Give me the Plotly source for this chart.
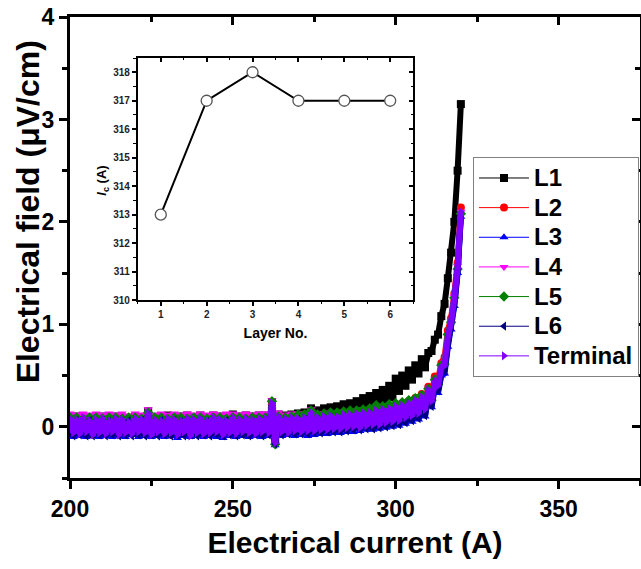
import plotly.graph_objects as go

# ---- V-I measurement: electrical field vs. transport current, per layer ----
current_a = list(range(200, 321))  # 1 A steps, 200 A ... 320 A

field_l1 = (
    [0.09, -0.05, 0.10, -0.06, 0.10, -0.04, 0.09, -0.07, 0.10, -0.05]
    + [0.10, -0.06, 0.09, -0.04, 0.10, -0.07, 0.09, -0.05, 0.08, -0.06]
    + [0.10, -0.04, 0.09, -0.05, 0.15, -0.07, 0.09, -0.04, 0.10, -0.06]
    + [0.11, -0.05, 0.09, -0.07, 0.10, -0.04, 0.11, -0.08, 0.09, -0.05]
    + [0.11, -0.06, 0.09, -0.05, 0.11, -0.04, 0.10, -0.07, 0.09, -0.05]
    + [0.12, -0.06, 0.10, -0.04, 0.11, -0.05, 0.10, -0.06, 0.11, -0.04]
    + [0.11, -0.05, 0.24, -0.14, 0.12, -0.03, 0.11, -0.04, 0.12, -0.02]
    + [0.13, -0.02, 0.14, 0.00, 0.18, 0.02, 0.16, 0.04, 0.18, 0.06]
    + [0.19, 0.07, 0.20, 0.09, 0.22, 0.10, 0.23, 0.12, 0.25, 0.14]
    + [0.28, 0.17, 0.30, 0.19, 0.33, 0.22, 0.36, 0.25, 0.40, 0.29]
    + [0.47, 0.35, 0.50, 0.40, 0.55, 0.46, 0.60, 0.52, 0.66, 0.58]
    + [0.72, 0.74, 0.85, 0.90, 1.08, 1.20, 1.45, 1.70, 2.00, 2.50]
    + [3.15]
)

field_l2 = (
    [0.07, -0.07, 0.08, -0.06, 0.07, -0.07, 0.08, -0.06, 0.07, -0.08]
    + [0.07, -0.06, 0.08, -0.07, 0.06, -0.06, 0.08, -0.07, 0.07, -0.05]
    + [0.07, -0.07, 0.08, -0.05, 0.12, -0.07, 0.08, -0.06, 0.07, -0.06]
    + [0.07, -0.08, 0.08, -0.06, 0.07, -0.07, 0.07, -0.07, 0.08, -0.07]
    + [0.07, -0.06, 0.08, -0.07, 0.07, -0.06, 0.08, -0.07, 0.07, -0.07]
    + [0.08, -0.06, 0.08, -0.07, 0.07, -0.05, 0.08, -0.06, 0.07, -0.06]
    + [0.09, -0.07, 0.22, -0.15, 0.09, -0.06, 0.08, -0.05, 0.08, -0.05]
    + [0.09, -0.04, 0.10, -0.05, 0.13, -0.03, 0.10, -0.04, 0.11, -0.02]
    + [0.12, -0.01, 0.11, -0.01, 0.13, 0.00, 0.13, 0.01, 0.14, 0.01]
    + [0.15, 0.02, 0.16, 0.03, 0.17, 0.04, 0.18, 0.05, 0.20, 0.07]
    + [0.22, 0.08, 0.23, 0.10, 0.25, 0.13, 0.28, 0.15, 0.32, 0.20]
    + [0.39, 0.30, 0.49, 0.46, 0.62, 0.68, 0.94, 1.06, 1.30, 1.60]
    + [2.14]
)

field_l3 = (
    [0.04, -0.10, 0.05, -0.09, 0.04, -0.10, 0.05, -0.08, 0.04, -0.10]
    + [0.05, -0.09, 0.04, -0.10, 0.05, -0.09, 0.03, -0.10, 0.05, -0.08]
    + [0.04, -0.10, 0.05, -0.09, 0.10, -0.10, 0.04, -0.09, 0.05, -0.10]
    + [0.04, -0.09, 0.05, -0.11, 0.04, -0.09, 0.05, -0.10, 0.04, -0.09]
    + [0.05, -0.10, 0.04, -0.09, 0.05, -0.10, 0.04, -0.11, 0.05, -0.09]
    + [0.05, -0.10, 0.04, -0.09, 0.05, -0.10, 0.04, -0.09, 0.05, -0.10]
    + [0.05, -0.09, 0.20, -0.18, 0.06, -0.09, 0.05, -0.08, 0.06, -0.09]
    + [0.06, -0.08, 0.06, -0.09, 0.10, -0.08, 0.06, -0.07, 0.07, -0.07]
    + [0.08, -0.06, 0.07, -0.06, 0.08, -0.05, 0.09, -0.05, 0.09, -0.04]
    + [0.10, -0.03, 0.11, -0.03, 0.12, -0.02, 0.13, -0.01, 0.14, 0.00]
    + [0.16, 0.01, 0.17, 0.03, 0.19, 0.05, 0.21, 0.07, 0.24, 0.10]
    + [0.30, 0.19, 0.38, 0.33, 0.50, 0.52, 0.78, 0.95, 1.18, 1.50]
    + [2.05]
)

field_l4 = (
    [0.13, -0.03, 0.12, -0.02, 0.13, -0.03, 0.12, -0.04, 0.13, -0.02]
    + [0.12, -0.03, 0.13, -0.02, 0.12, -0.04, 0.13, -0.03, 0.11, -0.02]
    + [0.13, -0.03, 0.12, -0.02, 0.17, -0.04, 0.12, -0.02, 0.13, -0.03]
    + [0.12, -0.03, 0.13, -0.04, 0.12, -0.02, 0.13, -0.04, 0.12, -0.03]
    + [0.13, -0.03, 0.12, -0.02, 0.13, -0.03, 0.12, -0.04, 0.13, -0.02]
    + [0.13, -0.03, 0.12, -0.02, 0.13, -0.03, 0.12, -0.03, 0.13, -0.02]
    + [0.13, -0.03, 0.26, -0.12, 0.14, -0.02, 0.12, -0.02, 0.13, -0.01]
    + [0.13, -0.01, 0.13, -0.01, 0.17, 0.00, 0.13, 0.00, 0.13, 0.01]
    + [0.14, 0.02, 0.14, 0.02, 0.15, 0.03, 0.15, 0.03, 0.16, 0.04]
    + [0.17, 0.05, 0.17, 0.05, 0.18, 0.06, 0.19, 0.07, 0.20, 0.08]
    + [0.21, 0.09, 0.22, 0.11, 0.24, 0.13, 0.27, 0.15, 0.30, 0.19]
    + [0.37, 0.27, 0.46, 0.42, 0.59, 0.63, 0.89, 1.03, 1.27, 1.57]
    + [2.10]
)

field_l5 = (
    [0.09, -0.05, 0.09, -0.06, 0.08, -0.05, 0.09, -0.06, 0.09, -0.05]
    + [0.08, -0.05, 0.09, -0.06, 0.09, -0.05, 0.08, -0.06, 0.09, -0.05]
    + [0.09, -0.06, 0.08, -0.05, 0.14, -0.06, 0.09, -0.05, 0.09, -0.06]
    + [0.08, -0.05, 0.09, -0.06, 0.09, -0.05, 0.08, -0.06, 0.09, -0.05]
    + [0.09, -0.06, 0.08, -0.05, 0.09, -0.05, 0.09, -0.06, 0.08, -0.05]
    + [0.09, -0.05, 0.09, -0.06, 0.08, -0.05, 0.09, -0.05, 0.09, -0.06]
    + [0.09, -0.05, 0.25, -0.17, 0.10, -0.04, 0.09, -0.04, 0.10, -0.03]
    + [0.12, -0.03, 0.12, -0.03, 0.16, -0.02, 0.12, -0.01, 0.13, -0.01]
    + [0.14, 0.00, 0.14, 0.00, 0.15, 0.01, 0.16, 0.02, 0.16, 0.02]
    + [0.17, 0.03, 0.18, 0.04, 0.21, 0.05, 0.20, 0.06, 0.22, 0.07]
    + [0.23, 0.08, 0.24, 0.10, 0.26, 0.12, 0.28, 0.14, 0.31, 0.18]
    + [0.37, 0.26, 0.46, 0.41, 0.60, 0.61, 0.90, 1.02, 1.26, 1.54]
    + [2.08]
)

field_l6 = (
    [0.05, -0.09, 0.06, -0.08, 0.05, -0.09, 0.06, -0.09, 0.05, -0.08]
    + [0.06, -0.09, 0.05, -0.08, 0.06, -0.09, 0.05, -0.08, 0.06, -0.09]
    + [0.05, -0.08, 0.06, -0.09, 0.11, -0.08, 0.05, -0.09, 0.06, -0.08]
    + [0.05, -0.09, 0.06, -0.08, 0.05, -0.09, 0.06, -0.08, 0.05, -0.09]
    + [0.06, -0.08, 0.05, -0.09, 0.06, -0.08, 0.05, -0.09, 0.06, -0.08]
    + [0.06, -0.09, 0.05, -0.08, 0.06, -0.09, 0.05, -0.08, 0.06, -0.09]
    + [0.06, -0.08, 0.21, -0.17, 0.07, -0.08, 0.06, -0.07, 0.07, -0.07]
    + [0.07, -0.07, 0.07, -0.07, 0.11, -0.06, 0.07, -0.06, 0.08, -0.05]
    + [0.09, -0.05, 0.08, -0.05, 0.10, -0.04, 0.10, -0.03, 0.10, -0.03]
    + [0.11, -0.02, 0.12, -0.02, 0.13, -0.01, 0.14, 0.00, 0.15, 0.01]
    + [0.17, 0.02, 0.18, 0.04, 0.20, 0.06, 0.22, 0.08, 0.25, 0.11]
    + [0.31, 0.20, 0.40, 0.35, 0.52, 0.55, 0.80, 0.97, 1.20, 1.52]
    + [2.06]
)

field_terminal = (
    [0.08, -0.06, 0.07, -0.07, 0.09, -0.05, 0.06, -0.08, 0.07, -0.06]
    + [0.08, -0.07, 0.06, -0.05, 0.08, -0.08, 0.07, -0.06, 0.05, -0.07]
    + [0.08, -0.05, 0.07, -0.06, 0.13, -0.08, 0.07, -0.05, 0.06, -0.07]
    + [0.08, -0.06, 0.07, -0.08, 0.06, -0.05, 0.08, -0.09, 0.07, -0.06]
    + [0.08, -0.07, 0.06, -0.06, 0.09, -0.05, 0.07, -0.08, 0.06, -0.06]
    + [0.09, -0.07, 0.07, -0.05, 0.08, -0.06, 0.07, -0.07, 0.08, -0.05]
    + [0.08, -0.06, 0.23, -0.16, 0.10, -0.05, 0.08, -0.06, 0.09, -0.04]
    + [0.08, -0.05, 0.09, -0.04, 0.14, -0.04, 0.09, -0.03, 0.10, -0.03]
    + [0.11, -0.02, 0.10, -0.02, 0.12, -0.01, 0.12, 0.00, 0.13, -0.01]
    + [0.14, 0.01, 0.14, 0.02, 0.16, 0.02, 0.17, 0.04, 0.18, 0.05]
    + [0.20, 0.06, 0.21, 0.09, 0.23, 0.11, 0.26, 0.13, 0.29, 0.17]
    + [0.36, 0.25, 0.45, 0.40, 0.58, 0.60, 0.88, 1.02, 1.25, 1.55]
    + [2.10]
)

series_names = ["L1", "L2", "L3", "L4", "L5", "L6", "Terminal"]
series_values = [field_l1, field_l2, field_l3, field_l4, field_l5, field_l6, field_terminal]
series_colors = ["#000000", "#ff0000", "#0000ff", "#ff00ff", "#008000", "#000080", "#8000ff"]
series_symbols = ["square", "circle", "triangle-up", "triangle-down", "diamond",
                  "triangle-left", "triangle-right"]

# ---- inset: critical current of each layer ----
layer_no = [1, 2, 3, 4, 5, 6]
critical_current = [313, 317, 318, 317, 317, 317]

FONT = "Liberation Sans, Arial, sans-serif"

fig = go.Figure()

# measured curves (dense, noisy), drawn thick so the noise forms a band
for name, vals, col, sym in zip(series_names, series_values, series_colors, series_symbols):
    fig.add_trace(go.Scatter(
        x=current_a, y=vals, mode="lines+markers", name=name,
        line=dict(color=col, width=6),
        marker=dict(symbol=sym, size=8, color=col, line=dict(width=0)),
        showlegend=False,
    ))

# legend entries with thin line samples (larger label text, compact rows)
for name, col, sym in zip(series_names, series_colors, series_symbols):
    fig.add_trace(go.Scatter(
        x=[None], y=[None], mode="lines+markers",
        name=f"<span style='font-size:24px'>{name}</span>",
        line=dict(color=col, width=1),
        marker=dict(symbol=sym, size=8, color=col),
        showlegend=True,
    ))

# inset curve
fig.add_trace(go.Scatter(
    x=layer_no, y=critical_current, mode="lines+markers", xaxis="x2", yaxis="y2",
    line=dict(color="black", width=2),
    marker=dict(symbol="circle", size=11, color="white", line=dict(color="#555555", width=1.3)),
    showlegend=False,
))

# empty traces that register the mirrored frame axes (top/right with inward ticks)
fig.add_trace(go.Scatter(x=[None], y=[None], xaxis="x3", yaxis="y3",
                         showlegend=False, hoverinfo="skip"))
fig.add_trace(go.Scatter(x=[None], y=[None], xaxis="x4", yaxis="y4",
                         showlegend=False, hoverinfo="skip"))

tick_font = dict(family=FONT, size=23, color="black", weight="bold")
inset_tick_font = dict(family=FONT, size=10, color="#222222", weight="bold")

main_x = dict(range=[200, 375], tick0=200, dtick=50, showgrid=False, zeroline=False)
main_y = dict(range=[-0.5, 4], tick0=0, dtick=1, showgrid=False, zeroline=False)
inset_x = dict(range=[0.5, 6.5], tick0=1, dtick=1, showgrid=False, zeroline=False)
inset_y = dict(range=[310, 318.5], tick0=310, dtick=1, showgrid=False, zeroline=False)

fig.update_layout(
    width=641, height=569,
    margin=dict(l=70, r=1, t=17, b=91),
    paper_bgcolor="white", plot_bgcolor="white",
    font=dict(family=FONT, color="black"),
    xaxis=dict(
        **main_x, domain=[0, 1], anchor="y",
        showline=True, linewidth=3, linecolor="black",
        ticks="outside", ticklen=8, tickwidth=3, tickcolor="black",
        minor=dict(dtick=25, ticks="outside", ticklen=5, tickwidth=2.5, tickcolor="black"),
        tickfont=tick_font,
        title=dict(text="Electrical current (A)", standoff=12,
                   font=dict(family=FONT, size=30, color="black", weight="bold")),
    ),
    yaxis=dict(
        **main_y, domain=[0, 1], anchor="x",
        showline=True, linewidth=3, linecolor="black",
        ticks="outside", ticklen=8, tickwidth=3, tickcolor="black",
        minor=dict(dtick=0.5, ticks="outside", ticklen=5, tickwidth=2.5, tickcolor="black"),
        tickvals=[0, 1, 2, 3, 4],
        tickfont=tick_font,
    ),
    # frame top/right with inward ticks
    xaxis3=dict(
        **main_x, overlaying="x", anchor="y", side="top",
        showline=True, linewidth=3, linecolor="black",
        ticks="inside", ticklen=8, tickwidth=3, tickcolor="black",
        minor=dict(dtick=25, ticks="inside", ticklen=5, tickwidth=2.5, tickcolor="black"),
        showticklabels=False,
    ),
    yaxis3=dict(
        **main_y, overlaying="y", anchor="x", side="right",
        showline=True, linewidth=3, linecolor="black",
        ticks="inside", ticklen=8, tickwidth=3, tickcolor="black",
        minor=dict(dtick=0.5, ticks="inside", ticklen=5, tickwidth=2.5, tickcolor="black"),
        showticklabels=False,
    ),
    # inset axes
    xaxis2=dict(
        **inset_x, domain=[0.119, 0.602], anchor="y2",
        showline=True, linewidth=1.8, linecolor="black",
        ticks="outside", ticklen=4, tickwidth=1.5, tickcolor="black",
        minor=dict(dtick=0.5, ticks="outside", ticklen=2.5, tickwidth=1.2, tickcolor="black"),
        tickfont=inset_tick_font,
        title=dict(text="Layer No.", standoff=9,
                   font=dict(family=FONT, size=14, color="black", weight="bold")),
    ),
    yaxis2=dict(
        **inset_y, domain=[0.386, 0.911], anchor="x2",
        showline=True, linewidth=1.8, linecolor="black",
        ticks="outside", ticklen=4, tickwidth=1.5, tickcolor="black",
        minor=dict(dtick=0.5, ticks="outside", ticklen=2.5, tickwidth=1.2, tickcolor="black"),
        tickfont=inset_tick_font,
    ),
    xaxis4=dict(
        **inset_x, overlaying="x2", anchor="y2", side="top",
        showline=True, linewidth=1.8, linecolor="black",
        ticks="inside", ticklen=4, tickwidth=1.5, tickcolor="black",
        minor=dict(dtick=0.5, ticks="inside", ticklen=2.5, tickwidth=1.2, tickcolor="black"),
        showticklabels=False,
    ),
    yaxis4=dict(
        **inset_y, overlaying="y2", anchor="x2", side="right",
        showline=True, linewidth=1.8, linecolor="black",
        ticks="inside", ticklen=4, tickwidth=1.5, tickcolor="black",
        minor=dict(dtick=0.5, ticks="inside", ticklen=2.5, tickwidth=1.2, tickcolor="black"),
        showticklabels=False,
    ),
    legend=dict(
        x=0.707, y=0.696, xanchor="left", yanchor="top",
        bgcolor="white", bordercolor="#808080", borderwidth=1,
        font=dict(family=FONT, size=20.5, color="black", weight="bold"),
        itemwidth=50,
    ),
    annotations=[
        dict(
            text="Electrical field (μV/cm)", textangle=-90,
            xref="paper", yref="paper", x=-0.074, y=0.578,
            xanchor="center", yanchor="middle", showarrow=False,
            font=dict(family=FONT, size=32, color="black", weight="bold"),
        ),
        dict(
            text="<i>I</i><sub>c</sub> (A)", textangle=-90,
            xref="paper", yref="paper", x=0.057, y=0.646,
            xanchor="center", yanchor="middle", showarrow=False,
            font=dict(family=FONT, size=13, color="black", weight="bold"),
        ),
    ],
)

fig.write_html("out.html")
